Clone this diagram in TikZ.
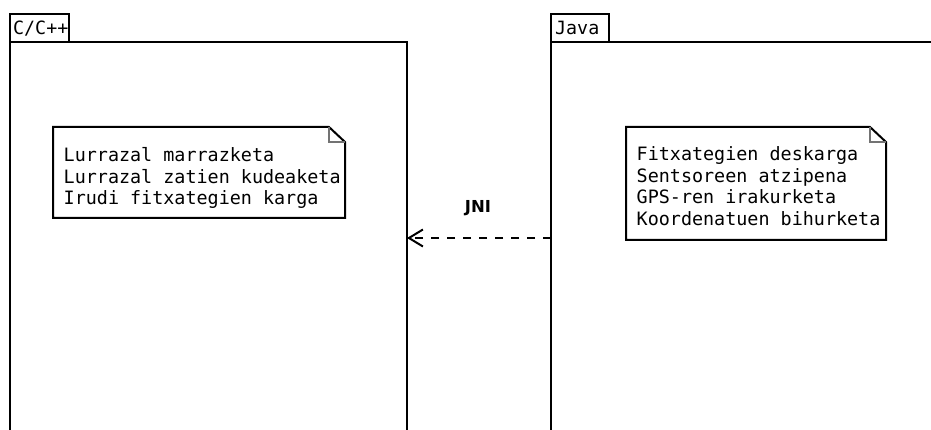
\documentclass[tikz,border=0pt]{standalone}
\usepackage{fontspec}
\newfontfamily\umlmono{DejaVu Sans Mono}
\newfontfamily\umlsans{DejaVu Sans}
\usetikzlibrary{arrows.meta}

% dog-eared note outline around an (invisible) rectangle node
\newcommand\drawnote[1]{%
  \draw[noteline] (#1.north west) -- ([xshift=-16pt]#1.north east)
    -- ([yshift=-15pt]#1.north east) -- (#1.south east) -- (#1.south west) -- cycle;
  \draw[foldline] ([xshift=-16pt]#1.north east)
    -- ([xshift=-16pt,yshift=-15pt]#1.north east) -- ([yshift=-15pt]#1.north east);}

\begin{document}
\begin{tikzpicture}[x=1pt,y=-1pt,
  pkgbody/.style={draw, line width=2pt, inner sep=0pt, outer sep=0pt, anchor=north west},
  pkgtab/.style={draw, line width=2pt, inner sep=0pt, outer sep=0pt, anchor=south west,
    minimum width=59pt, minimum height=28pt},
  tablabel/.style={inner sep=0pt, anchor=west, text height=13pt, text depth=0pt,
    font=\umlmono\fontsize{18.3}{21.5}\selectfont},
  notebox/.style={inner sep=0pt, outer sep=0pt, anchor=north west},
  notetext/.style={inner sep=0pt, anchor=base west,
    font=\umlmono\fontsize{18.4}{21.5}\selectfont},
  noteline/.style={line width=2pt, line join=miter},
  foldline/.style={line width=1.5pt, draw=black!55},
  dep/.style={line width=2pt, dash pattern=on 8pt off 8pt,
    -{Straight Barb[length=14pt, width=17pt, line width=2pt]}},
  deplabel/.style={inner sep=0pt, font=\umlsans\bfseries\fontsize{16.5}{19}\selectfont}]

\useasboundingbox (0,0) rectangle (931,430);
\clip (0,0) rectangle (931,430);

% C/C++ package
\node[pkgbody, minimum width=397pt, minimum height=450pt] (cpkg) at (10,42) {};
\node[pkgtab] (ctab) at (10,42) {};
\node[tablabel] (ctablabel) at ([xshift=3pt]ctab.west) {C/C++};

% Java package
\node[pkgbody, minimum width=450pt, minimum height=450pt] (jpkg) at (551,42) {};
\node[pkgtab, minimum width=58pt] (jtab) at (551,42) {};
\node[tablabel] (jtablabel) at ([xshift=4pt]jtab.west) {Java};

% notes
\node[notebox, minimum width=292pt, minimum height=91pt] (cnote) at (53,127) {};
\drawnote{cnote}
\node[notetext] (cnotetext) at (63.5,162) {\vtop{\baselineskip=21.5pt
  \hbox{Lurrazal marrazketa}\hbox{Lurrazal zatien kudeaketa}\hbox{Irudi fitxategien karga}}};

\node[notebox, minimum width=260pt, minimum height=113pt] (jnote) at (626,127) {};
\drawnote{jnote}
\node[notetext] (jnotetext) at (636.5,161) {\vtop{\baselineskip=21.5pt
  \hbox{Fitxategien deskarga}\hbox{Sentsoreen atzipena}\hbox{GPS-ren irakurketa}\hbox{Koordenatuen bihurketa}}};

% JNI dependency
\coordinate (jnisrc) at (551,238);
\draw[dep] (jnisrc) -- (cpkg.east |- jnisrc);
\node[deplabel] (jnilabel) at (478,208) {JNI};
\end{tikzpicture}
\end{document}
